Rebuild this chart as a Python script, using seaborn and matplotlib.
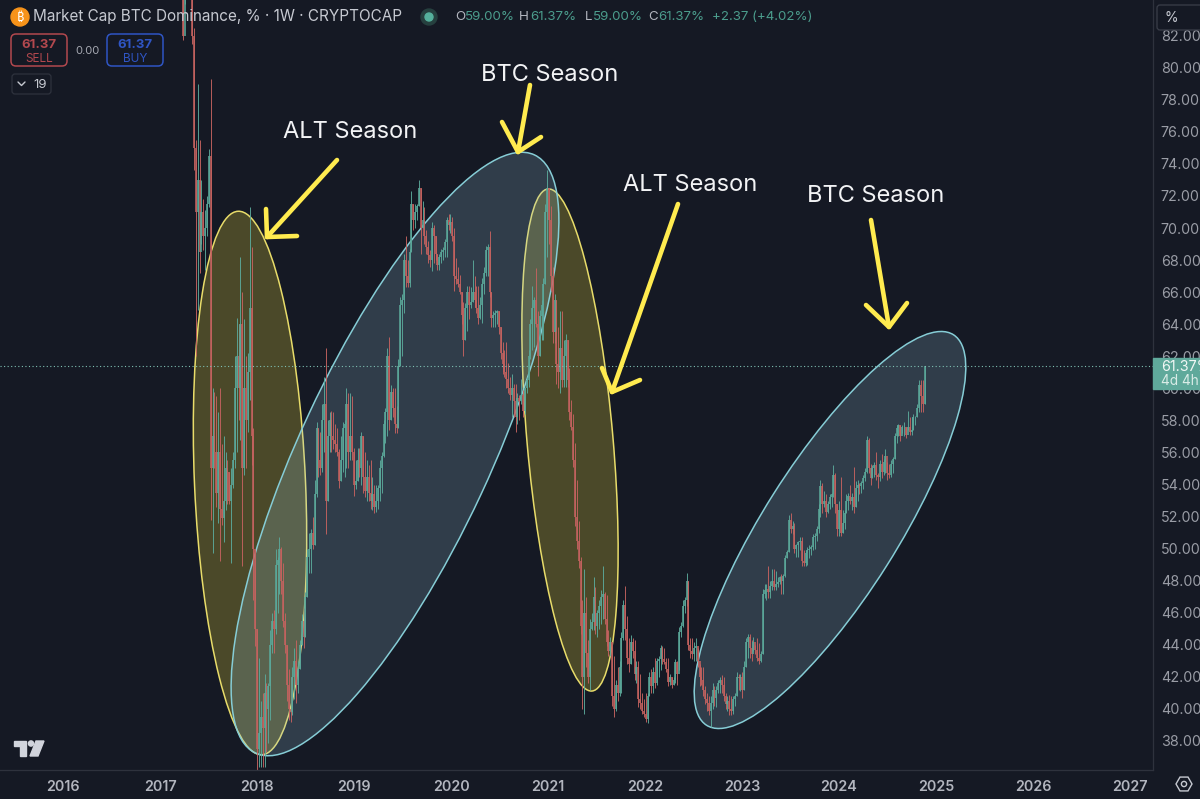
import matplotlib
matplotlib.use("Agg")
import matplotlib.dates as mdates
import matplotlib.pyplot as plt
from matplotlib.patches import Circle, Ellipse, FancyBboxPatch, Polygon, RegularPolygon
import numpy as np
import pandas as pd
import seaborn as sns

BG = "#151924"
RED = "#c4625f"
TEAL = "#5ba89a"
LABEL = "#9a9da6"
YELLOW = "#ffeb4f"

first_week = "2017-03-27"
first_open = 85.0

highs = [
    85.5, 90, 92, 90, 88, 87, 82.5, 75.5, 79, 75.5,
    73, 71.8, 71.1, 72, 74.9, 79.3, 60, 59.8, 59.5, 58.5,
    60, 56.5, 57, 56, 55.5, 54.8, 55, 56, 62, 64.4,
    64, 68.2, 66, 64.3, 62, 62.2, 71.3, 68.8, 57.5, 50,
    45, 43.2, 40.5, 41, 42.2, 41.6, 41.6, 44.9, 46, 46.2,
    50, 49.5, 50.7, 50.1, 49.1, 46, 44, 42.5, 42, 42.6,
    43.8, 44.3, 43, 44.3, 45.9, 46.3, 47.3, 50, 51, 51.2,
    52, 54.3, 57.9, 57.5, 57.3, 59, 60.7, 62.5, 58, 58.5,
    58.6, 58.5, 57.8, 57.5, 56.2, 57, 57.9, 58, 60, 59.7,
    59.7, 59.5, 56.3, 55.5, 56.3, 56.3, 57.3, 57, 56, 55.5,
    55.2, 55.5, 54.5, 54, 54, 54, 55.5, 56, 58, 58.8,
    62.5, 63.2, 60.2, 60, 60, 58.9, 61.8, 65.7, 65.9, 68.4,
    69.5, 68, 68.7, 72.3, 71.5, 71.5, 71.5, 73, 72.5, 71.7,
    71.3, 69.9, 69.2, 68.6, 70.4, 70.2, 69.5, 68.4, 68.4, 68.7,
    68.8, 69.3, 70.7, 70.9, 70.9, 70.7, 70, 68.1, 67.6, 67.1,
    66, 65.4, 65.3, 66.4, 66.4, 66.3, 68, 67, 66.4, 66.4,
    65.7, 66.9, 67.6, 68.9, 69, 69.8, 66, 64.8, 64.9, 64.9,
    64.8, 63.8, 62.9, 62.4, 62.9, 61.6, 60.7, 60.9, 60.3, 60.3,
    59.7, 59.6, 60.6, 59.9, 60.1, 60.7, 62.4, 64.3, 66.4, 65.7,
    67.5, 64.8, 64.9, 65.5, 66.9, 71.5, 73.6, 72.5, 71.4, 67.6,
    65.9, 65.5, 63.8, 64.8, 64.8, 63, 63.4, 63, 61.3, 59.3,
    58.4, 56.6, 54.3, 51.7, 49.5, 46.8, 48.7, 47, 44.3, 45.6,
    46, 48.2, 47.6, 46.2, 46.8, 47.4, 48.9, 47.3, 47.1, 44.9,
    44.5, 44.2, 43.3, 41.8, 42.6, 43, 44.8, 46.8, 47.7, 45.8,
    44.4, 44.6, 44.4, 44.3, 43, 43, 42.2, 41, 40.6, 41,
    41, 42.3, 42.5, 42.6, 43.2, 43.2, 43.3, 44, 43.9, 43.8,
    43.2, 43.2, 42.2, 42, 42, 43.1, 43, 45.1, 45.4, 46.8,
    47, 48.5, 48, 44.4, 44.4, 44.2, 44.4, 43.8, 42.8, 42.6,
    42.6, 41.4, 41, 40.8, 40.8, 41.6, 41.4, 41.4, 41.8, 42,
    42.1, 42, 41, 40.8, 40.9, 40.8, 40.8, 41, 42.3, 42.2,
    42.2, 42.3, 43, 44.4, 44.7, 44.7, 44.3, 44.5, 44, 44.4,
    44.1, 43.6, 47.5, 47.8, 47.8, 48.9, 48, 48.7, 48.7, 48.6,
    48.2, 48.3, 48.4, 48.4, 49.6, 49.9, 52.1, 52.2, 51.7, 51.6,
    50.3, 50.5, 50.7, 50.7, 49.9, 49.9, 50.1, 50.2, 50.2, 50.9,
    51, 51.4, 52.8, 54.3, 54.1, 53.6, 53.4, 53, 53.4, 53.5,
    55.2, 54.7, 52.8, 53, 54.5, 52.4, 52.4, 53.4, 53.5, 54,
    53.5, 55.1, 54.2, 54.3, 54.1, 54.2, 54.6, 55, 57, 56.9,
    55.3, 55.2, 55.4, 56, 54.7, 55.5, 55.9, 55.6, 56.2, 55.4,
    55.3, 55.5, 55.7, 57.2, 57.7, 57.8, 57.7, 57.7, 57.9, 57.6,
    58.6, 58.2, 58.2, 58.4, 58.3, 59, 60.5, 60.5, 60.5, 61.37,
]

lows = [
    81.7, 84, 86, 85, 85, 81.5, 73.6, 62, 64.9, 67.2,
    69, 68.6, 67.4, 69.5, 71.3, 51.8, 49.7, 55, 52.6, 51.6,
    49.2, 51.5, 50.4, 52.4, 52.8, 52.8, 49.1, 53.8, 55, 56,
    58, 56.8, 48.9, 54.6, 55, 57.3, 59.3, 55.2, 46.8, 43.9,
    36.2, 36.4, 36.4, 36.4, 36.4, 37.3, 37.9, 39.3, 43.5, 43.5,
    44.7, 46, 47.2, 47.2, 45.1, 43.5, 40.5, 39.3, 39.2, 39.6,
    40.6, 40.4, 41, 42.5, 44, 43.8, 44.5, 47, 48.5, 48.5,
    50, 50.2, 53.2, 54.5, 54.6, 54.8, 56, 50.9, 53, 56,
    56, 56.2, 56, 55.8, 53.8, 54.2, 54.8, 54.5, 55, 55,
    55.5, 55.5, 53.3, 53.7, 54.2, 54.5, 54, 53.5, 53.2, 53,
    53, 52.5, 52.4, 52.2, 52.3, 52.5, 53, 53.5, 55.7, 56.6,
    57, 57.4, 58, 58.2, 57.2, 57.2, 57.5, 61.4, 62, 64.7,
    66.3, 66.3, 66.3, 68.5, 69.9, 70, 70.5, 71.4, 68.4, 70,
    69, 68.4, 67.8, 67.6, 67.3, 67.8, 68, 67.4, 67.4, 67.8,
    68, 68.2, 68.2, 69.9, 69.7, 69.2, 66.1, 66.5, 66.3, 65.9,
    64, 62, 63, 63.6, 64.3, 65, 65.4, 65.1, 64.7, 64,
    64.3, 64.1, 65.9, 67, 67, 65.7, 63.8, 63.8, 63.8, 64,
    63.4, 61.8, 60.9, 60.7, 60, 59.7, 59.3, 58.2, 58.2, 57.3,
    57.8, 58, 59, 58.2, 58.4, 59.7, 60.1, 61.8, 62.4, 62.6,
    63.8, 60.8, 62, 63, 63, 66.5, 68.2, 69, 66.1, 62.8,
    62.8, 60.3, 60, 59.7, 60.1, 60.1, 60.1, 60.1, 58, 57.4,
    55.1, 51.4, 50, 48.8, 44.7, 40, 39.7, 42.6, 41.6, 41.2,
    44.9, 44.9, 44.7, 44.5, 45, 45.3, 45.6, 45.3, 43.9, 43.3,
    43.3, 40.2, 39.5, 39.9, 40.5, 40.8, 41, 44.3, 44.3, 42.8,
    42.3, 42.8, 43.2, 41.8, 41.6, 40.1, 40, 39.7, 39.5, 39.2,
    39.1, 40.8, 41, 41, 41.3, 41.5, 42, 42.4, 42.8, 42.8,
    42.3, 41.4, 41.5, 41.3, 41.5, 41.6, 41.5, 42.4, 44.5, 45.1,
    46, 46.4, 43.7, 43.2, 43.1, 43, 43, 42.6, 41.4, 41.5,
    40.8, 40.3, 39.9, 39.6, 38.9, 40, 40.2, 40.1, 41, 41,
    41, 40.5, 40, 39.9, 39.6, 39.6, 39.7, 40.2, 40.8, 41.2,
    41.1, 40.7, 41.2, 42.6, 43.2, 43.2, 43, 43.6, 43.4, 43,
    42.8, 42.9, 43.4, 46.9, 46.8, 46.9, 46.9, 47.4, 47.4, 47.4,
    47.6, 47.8, 47.2, 47.2, 48.2, 49.4, 49.8, 51, 50.9, 49.7,
    49.5, 49.5, 49.9, 48.9, 48.9, 48.9, 49, 49.4, 49.6, 49.9,
    50, 50.5, 51, 52, 52.2, 52.6, 52, 52.2, 52.5, 52.6,
    53.2, 52.2, 50.8, 50.8, 50.8, 51, 51.2, 52.2, 52.4, 52.8,
    52.4, 52.2, 52.6, 53, 53.4, 53.5, 53.7, 54.2, 54.7, 54.7,
    54, 54.4, 54.5, 54.3, 53.8, 54.2, 54.4, 54.6, 54.7, 54.3,
    54.4, 54.5, 54.7, 55.6, 56.6, 57, 56.7, 57.2, 57, 56.9,
    57.4, 57.1, 57.1, 57.4, 57.7, 58.2, 58.5, 58.5, 58.5, 59,
]

closes = [
    82, 88, 87, 86, 86.5, 82, 75, 71, 73, 68.5,
    71, 69.5, 70, 71.5, 74.5, 55, 57, 56, 53.5, 56,
    52.5, 51.9, 53, 55, 54.8, 53, 54, 55.5, 60, 62,
    60, 64, 55, 60, 58, 61, 65, 57, 50, 45,
    37.5, 38.5, 39.5, 38.8, 41, 40, 41.4, 44, 45.5, 45,
    49, 49.3, 50, 48, 45.5, 44, 41.5, 40, 39.8, 42,
    43, 41.5, 42.5, 44, 45.5, 44.5, 47, 49.5, 50, 51,
    50.2, 53.4, 57.5, 55.5, 55, 58, 59, 53, 57, 58,
    57, 56.8, 56.5, 56, 54.2, 55.5, 57.5, 57.8, 59, 56,
    57, 56, 54, 54.2, 55.5, 55, 57, 54.5, 53.6, 54.5,
    53.5, 53, 53.4, 52.6, 53, 53.8, 55, 55.8, 57.8, 58.5,
    62, 58, 59.8, 58.8, 57.8, 57.5, 61.4, 65.2, 65.5, 68,
    67, 66.6, 68.5, 71.5, 70.5, 71, 71.4, 72.5, 70, 70.5,
    69.5, 68.8, 68.3, 68, 70, 69.5, 68.4, 67.7, 68.2, 68.5,
    68.6, 69.1, 70.5, 70.2, 70.4, 69.5, 67, 66.8, 66.5, 66,
    64.6, 63, 65, 66, 65.2, 65.4, 66, 65.5, 65, 64.4,
    65.2, 66.5, 67.2, 68.6, 68.8, 66, 64.4, 64.6, 64.7, 64.8,
    63.8, 62.2, 61.5, 61, 60.6, 60, 59.6, 60, 59.2, 58.2,
    59.4, 59.2, 59.6, 58.6, 60, 60.5, 62, 64, 65, 65.5,
    64, 62, 64.5, 65.2, 66.5, 71, 72.5, 70.5, 67, 63.5,
    65.5, 61.5, 61, 62.5, 60.5, 62, 63, 60.5, 58.5, 57.6,
    55.5, 52, 50.5, 49.2, 45.2, 42, 46, 43.5, 42, 45,
    45.4, 47, 45.2, 46, 46.4, 47, 47.2, 45.6, 44.2, 43.6,
    44.2, 40.8, 40, 41.5, 41, 42.6, 44.4, 46.5, 45, 43.2,
    42.8, 44.2, 43.6, 42.2, 42.6, 40.6, 40.4, 39.9, 39.7, 39.4,
    40.8, 42, 41.4, 42.3, 41.6, 43, 43.1, 43.8, 43.1, 42.9,
    42.5, 41.7, 42, 41.5, 41.8, 42.9, 42.2, 44.8, 45.2, 46.4,
    46.8, 48, 44, 43.6, 43.4, 43.8, 43.9, 43, 42, 41.8,
    41.2, 40.6, 40.4, 39.9, 40.4, 41.2, 40.7, 41.2, 41.6, 41.8,
    41.5, 40.8, 40.3, 40.5, 40, 39.9, 40.6, 40.8, 42, 41.9,
    42, 41.2, 42.6, 44.2, 44.5, 43.8, 43.4, 44.2, 43.7, 43.2,
    43, 43.4, 47.2, 47.4, 47.5, 47.3, 47.7, 48, 47.6, 47.8,
    47.9, 48.2, 48, 48.3, 49.4, 49.8, 51.8, 51.2, 51.4, 50,
    50.2, 50.4, 50.5, 49.2, 49.1, 49.7, 49.9, 50, 50.1, 50.7,
    50.8, 51.2, 52.5, 53.9, 52.8, 53, 52.3, 52.8, 53.2, 53.4,
    54.6, 52.8, 51.2, 52.4, 51, 51.6, 52.2, 53, 53.3, 53,
    53.2, 52.6, 53.8, 54, 53.9, 54.1, 54.4, 54.8, 56.8, 55,
    54.4, 55, 55.2, 54.6, 54.5, 55.3, 54.8, 55.4, 55.8, 54.7,
    54.6, 55.3, 55.6, 57, 57.5, 57.7, 57, 57.6, 57.6, 57.1,
    57.6, 57.3, 57.4, 58.2, 58.2, 58.8, 60.2, 59.5, 59, 61.37,
]

year_ticks = list(range(2016, 2028))
pct_ticks = list(range(38, 84, 2))

dates = pd.date_range(first_week, periods=len(closes), freq="7D")
opens = [first_open] + closes[:-1]

candles = pd.DataFrame({"date": dates, "open": opens, "high": highs, "low": lows, "close": closes})
candles["side"] = np.where(candles["close"] >= candles["open"], "up", "down")
candles["week"] = range(len(candles))

wicks = candles.melt(id_vars=["date", "week", "side"], value_vars=["high", "low"], value_name="pct")
bodies = candles.melt(id_vars=["date", "week", "side"], value_vars=["open", "close"], value_name="pct")

sns.set_theme(style="dark", rc={"axes.facecolor": BG, "figure.facecolor": BG})
plt.rcParams["font.family"] = ["Inter", "DejaVu Sans"]

fig = plt.figure(figsize=(12, 7.99), dpi=100)

# ellipses sit under the candles, everything is laid out in screen pixels here
ax_bg = fig.add_axes([0, 0, 1, 1], zorder=0)
ax_bg.set_xlim(0, 1200)
ax_bg.set_ylim(799, 0)
ax_bg.axis("off")

yellow_fill = (1, 0.92, 0.23, 0.23)
blue_fill = (0.59, 0.78, 0.86, 0.21)
ellipses = [
    (250, 483, 272, 55.5, 87.5, yellow_fill, "#e8dc6a"),
    (570, 440, 252, 43, 85, yellow_fill, "#e8dc6a"),
    (395, 454, 330, 95, -65, blue_fill, "#86cdd6"),
    (830, 530, 231, 67, -57.7, blue_fill, "#86cdd6"),
]
for cx, cy, a, b, ang, fill, edge in ellipses:
    ax_bg.add_patch(Ellipse((cx, cy), 2 * a, 2 * b, angle=ang, facecolor=fill, edgecolor=edge, lw=1.1))

ax = fig.add_axes([0, 1 - 770 / 799, 1153 / 1200, 770 / 799], zorder=1)
ax.patch.set_alpha(0)

palette = {"up": TEAL, "down": RED}
sns.lineplot(data=wicks, x="date", y="pct", units="week", hue="side", palette=palette, estimator=None,
             lw=0.65, legend=False, ax=ax, solid_capstyle="butt")
sns.lineplot(data=bodies, x="date", y="pct", units="week", hue="side", palette=palette, estimator=None,
             lw=1.15, legend=False, ax=ax, solid_capstyle="butt")
ax.axhline(closes[-1], color="#7fc0b3", lw=0.8, ls=(0, (1, 2.2)))

px_per_day = 97 / 365.25
x0 = mdates.date2num(pd.Timestamp("2016-01-01")) - 63 / px_per_day
ax.set_xlim(x0, x0 + 1153 / px_per_day)
ax.set_ylim(38 - 29 / 16.03, 38 + 741 / 16.03)

ax.set_xticks([mdates.date2num(pd.Timestamp(f"{y}-01-01")) for y in year_ticks])
ax.set_xticklabels([str(y) for y in year_ticks], color="#b2b5be", fontsize=10.3, fontweight="semibold")
ax.set_yticks(pct_ticks)
ax.set_yticklabels([f"{v:.2f}%" for v in pct_ticks], color=LABEL, fontsize=10.3)
ax.yaxis.tick_right()
ax.tick_params(axis="x", length=0, pad=7)
ax.tick_params(axis="y", length=0, pad=5.5)
ax.set_xlabel("")
ax.set_ylabel("")
ax.grid(False)
for side in ["top", "left"]:
    ax.spines[side].set_visible(False)
for side in ["bottom", "right"]:
    ax.spines[side].set_color("#2e323d")
    ax.spines[side].set_linewidth(0.9)

# top layer: arrows, notes and the trading view furniture
ui = fig.add_axes([0, 0, 1, 1], zorder=2)
ui.set_xlim(0, 1200)
ui.set_ylim(799, 0)
ui.axis("off")
ui.patch.set_alpha(0)

arrows = [
    ([337, 267], [160, 237], [266, 267, 297], [209, 237, 236]),
    ([530, 518], [85, 152], [502, 518, 541], [122, 152, 137]),
    ([678, 612], [204, 392], [602, 612, 640], [368, 392, 380]),
    ([871, 889], [220, 327], [866, 889, 907], [305, 327, 303]),
]
for sx, sy, hx, hy in arrows:
    ui.plot(sx, sy, color=YELLOW, lw=3.3, solid_capstyle="round")
    ui.plot(hx, hy, color=YELLOW, lw=3.3, solid_capstyle="round", solid_joinstyle="round")

for txt, tx, ty in [("ALT Season", 350, 132), ("BTC Season", 550, 75), ("ALT Season", 690, 185), ("BTC Season", 876, 196)]:
    ui.text(tx, ty, txt, color="#f2f3f5", fontsize=17, ha="center", va="center")

# header
ui.add_patch(Circle((20, 17), 9, color="#f7931a"))
ui.text(20, 17.5, "₿", color="white", fontsize=9, fontweight="bold", ha="center", va="center",
        family=["Noto Sans", "Roboto", "Open Sans", "Lato", "Liberation Sans", "DejaVu Sans"])
ui.text(33, 17, "Market Cap BTC Dominance, % · 1W · CRYPTOCAP", color="#c6c9d1", fontsize=11, va="center")
ui.add_patch(Circle((429, 17), 8, color="#26403f"))
ui.add_patch(Circle((429, 17), 4, color="#55b09c"))

ohlc = [("O", 455, "59.00%", 465), ("H", 519, "61.37%", 530), ("L", 585, "59.00%", 593), ("C", 648, "61.37%", 658)]
for key, kx, val, vx in ohlc:
    ui.text(kx, 17, key, color="#b2b5be", fontsize=9.6, va="center")
    ui.text(vx, 17, val, color="#4b9c8c", fontsize=9.6, va="center")
ui.text(712, 17, "+2.37 (+4.02%)", color="#4b9c8c", fontsize=9.6, va="center")

for bx, col, lab in [(11, "#b2484e", "SELL"), (107, "#2f55c4", "BUY")]:
    ui.add_patch(FancyBboxPatch((bx + 3, 37), 50, 26, boxstyle="round,pad=3,rounding_size=5",
                                facecolor=BG, edgecolor=col, lw=1.1))
    ui.text(bx + 28, 44.5, "61.37", color=col, fontsize=9.5, fontweight="bold", ha="center", va="center")
    ui.text(bx + 28, 58.5, lab, color=col, fontsize=8.5, ha="center", va="center")
ui.text(87, 50.5, "0.00", color="#a6a9b2", fontsize=8, ha="center", va="center")

ui.add_patch(FancyBboxPatch((14, 76), 35, 16, boxstyle="round,pad=2,rounding_size=3",
                            facecolor=BG, edgecolor="#2e323d", lw=0.9))
ui.plot([18, 21.5, 25], [82, 85.5, 82], color="#c6c9d1", lw=1)
ui.text(40, 84.5, "19", color="#c6c9d1", fontsize=9.5, ha="center", va="center")

# right scale furniture
ui.add_patch(FancyBboxPatch((1160, 8), 50, 19, boxstyle="round,pad=3,rounding_size=3",
                            facecolor=BG, edgecolor="#3a3e49", lw=0.9))
ui.text(1165, 18, "%", color="#c6c9d1", fontsize=10, va="center")
ui.add_patch(Polygon([(1153, 358), (1200, 358), (1200, 389), (1153, 389)], color="#5fa99b"))
ui.text(1161, 367, f"{closes[-1]:.2f}%", color="#f1f7f5", fontsize=10.3, va="center")
ui.text(1161, 381, "4d 4h", color="#d9ece7", fontsize=9.8, va="center")

ui.add_patch(RegularPolygon((1184, 784), 6, radius=8, orientation=np.pi / 2, fill=False, edgecolor="#c6c9d1", lw=1))
ui.add_patch(Circle((1184, 784), 2.6, fill=False, edgecolor="#c6c9d1", lw=1))

# tradingview mark
ui.add_patch(Polygon([(14, 741), (26, 741), (26, 756), (20, 756), (20, 746), (14, 746)], color="#d1d4dc"))
ui.add_patch(Circle((31, 743.5), 2.6, color="#d1d4dc"))
ui.add_patch(Polygon([(36, 741), (44, 741), (38, 756), (30, 756)], color="#d1d4dc"))

fig.savefig("out.png", dpi=100, facecolor=BG)
